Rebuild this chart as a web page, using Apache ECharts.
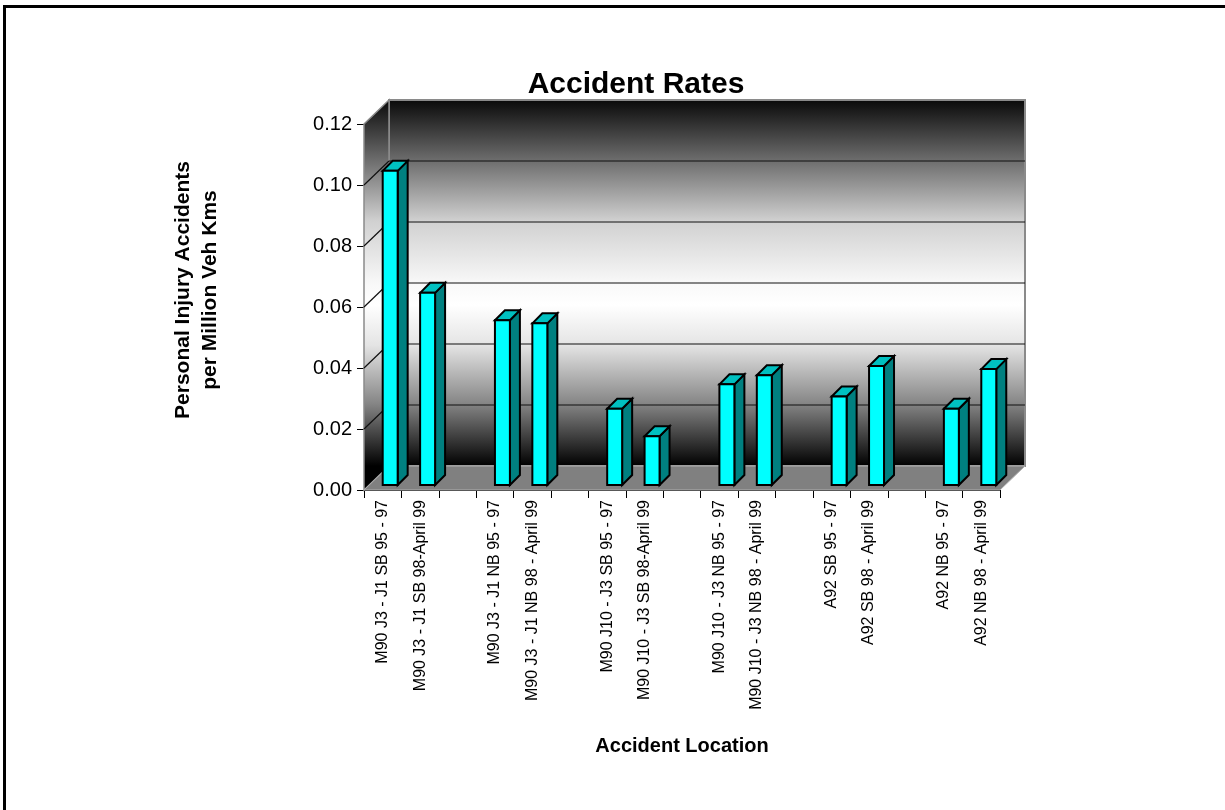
<!DOCTYPE html>
<html>
<head>
<meta charset="utf-8">
<script src="https://cdn.jsdelivr.net/npm/echarts@6/dist/echarts.min.js"></script>
<style>
  html, body { margin: 0; padding: 0; background: #fff; }
  #chart { width: 1225px; height: 810px; }
</style>
</head>
<body>
<div id="chart"></div>
<script>
// 사고율 3D 막대 차트 — 벽/바닥/막대를 custom series 로 그린다.

const categories = [
  "M90 J3 - J1 SB 95 - 97", "M90 J3 - J1 SB 98-April 99", "",
  "M90 J3 - J1 NB 95 - 97", "M90 J3 - J1 NB 98 - April 99", "",
  "M90 J10 - J3 SB 95 - 97", "M90 J10 - J3 SB 98-April 99", "",
  "M90 J10 - J3 NB 95 - 97", "M90 J10 - J3 NB 98 - April 99", "",
  "A92 SB 95 - 97", "A92 SB 98 - April 99", "",
  "A92 NB 95 - 97", "A92 NB 98 - April 99",
];
const rates = [
  0.103, 0.063, null,
  0.054, 0.053, null,
  0.025, 0.016, null,
  0.033, 0.036, null,
  0.029, 0.039, null,
  0.025, 0.038,
];
const yTicks = [0, 0.02, 0.04, 0.06, 0.08, 0.1, 0.12];

const FONT = '"Liberation Sans", Arial, sans-serif';
const DX = 25, DY = -24;          // 벽 깊이
const BD = 10;                     // 막대 깊이
const BAR_OFF = 5;                 // 막대 앞면의 깊이 위치

const wallGrad = (y0, y1) => new echarts.graphic.LinearGradient(0, y0, 0, y1, [
  { offset: 0, color: "#0a0a0a" },
  { offset: 0.16, color: "#6a6a6a" },
  { offset: 0.33, color: "#d0d0d0" },
  { offset: 0.5, color: "#f8f8f8" },
  { offset: 0.56, color: "#ffffff" },
  { offset: 0.67, color: "#e4e4e4" },
  { offset: 0.83, color: "#858585" },
  { offset: 1, color: "#000000" },
], true);

function renderWalls(params, api) {
  const cs = params.coordSys;
  const x0 = cs.x, x1 = cs.x + cs.width;
  const yTop = cs.y, yBot = cs.y + cs.height;
  const g = wallGrad(yTop + DY, yBot + DY);
  const children = [
    { type: "rect", shape: { x: x0 + DX, y: yTop + DY, width: cs.width, height: cs.height },
      style: { fill: g, stroke: "#8a8a8a", lineWidth: 2 } },
    { type: "polygon", shape: { points: [[x0, yBot], [x0, yTop], [x0 + DX, yTop + DY], [x0 + DX, yBot + DY]] },
      style: { fill: g, stroke: "#8a8a8a", lineWidth: 1.5 } },
    { type: "polygon", shape: { points: [[x0, yBot], [x1, yBot], [x1 + DX, yBot + DY], [x0 + DX, yBot + DY]] },
      style: { fill: "#808080", stroke: "#b0b0b0", lineWidth: 1 } },
  ];
  yTicks.forEach((v) => {
    if (v === 0 || v === yTicks[yTicks.length - 1]) return;
    const y = api.coord([0, v])[1];
    children.push({ type: "line", shape: { x1: x0 + DX, y1: y + DY, x2: x1 + DX, y2: y + DY },
      style: { stroke: "#111", lineWidth: 1.2 } });
    children.push({ type: "line", shape: { x1: x0, y1: y, x2: x0 + DX, y2: y + DY },
      style: { stroke: "#111", lineWidth: 1.2 } });
  });
  return { type: "group", children };
}

function renderBar(params, api) {
  const i = api.value(0), v = api.value(1);
  const top = api.coord([i, v]);
  const base = api.coord([i, 0]);
  const w = api.size([1, 0])[0] * 0.4;
  const x = top[0];
  const yt = top[1] - BAR_OFF, yb = base[1] - BAR_OFF;
  const st = { stroke: "#000", lineWidth: 2, lineJoin: "miter" };
  return {
    type: "group",
    children: [
      { type: "polygon", shape: { points: [[x + w, yt], [x + w + BD, yt - BD], [x + w + BD, yb - BD], [x + w, yb]] },
        style: { fill: "#008080", ...st } },
      { type: "polygon", shape: { points: [[x, yt], [x + BD, yt - BD], [x + w + BD, yt - BD], [x + w, yt]] },
        style: { fill: "#00c0c0", ...st } },
      { type: "rect", shape: { x, y: yt, width: w, height: yb - yt },
        style: { fill: "#00ffff", ...st } },
    ],
  };
}

const chart = echarts.init(document.getElementById("chart"), null, { renderer: "canvas" });
chart.setOption({
  animation: false,
  textStyle: { fontFamily: FONT, color: "#000" },
  grid: { left: 364, top: 124, width: 636, height: 366 },
  xAxis: {
    type: "category",
    data: categories,
    boundaryGap: true,
    name: "Accident Location",
    nameLocation: "middle",
    nameGap: 246,
    nameTextStyle: { fontFamily: FONT, fontWeight: "bold", fontSize: 20, color: "#000" },
    axisLine: { lineStyle: { color: "#000", width: 1 } },
    axisTick: { show: true, interval: 0, length: 8, lineStyle: { color: "#000" } },
    axisLabel: { interval: 0, rotate: 90, fontSize: 16, margin: 10, color: "#000", fontFamily: FONT },
    splitLine: { show: false },
  },
  yAxis: {
    type: "value",
    min: 0, max: 0.12, interval: 0.02,
    axisLine: { show: true, lineStyle: { color: "#000", width: 1 } },
    axisTick: { show: true, length: 7, lineStyle: { color: "#000" } },
    axisLabel: { fontSize: 20, margin: 12, color: "#000", fontFamily: FONT,
      formatter: (v) => v.toFixed(2) },
    splitLine: { show: false },
  },
  series: [
    { type: "custom", renderItem: renderWalls, data: [[0, 0]], z: 1, silent: true },
    { type: "custom", renderItem: renderBar, z: 2,
      data: rates.map((v, i) => [i, v]).filter((d) => d[1] != null) },
  ],
  graphic: [
    { type: "rect", shape: { x: 3, y: 5, width: 1222, height: 3 }, style: { fill: "#000" } },
    { type: "rect", shape: { x: 3, y: 5, width: 3, height: 805 }, style: { fill: "#000" } },
    { type: "text", x: 636, y: 85, style: { text: "Accident Rates", fill: "#000",
      font: 'bold 30px "Liberation Sans", Arial, sans-serif', align: "center", verticalAlign: "middle" } },
    { type: "text", x: 197, y: 290, rotation: Math.PI / 2,
      style: { text: "Personal Injury Accidents\nper Million Veh Kms", fill: "#000", lineHeight: 27,
        font: 'bold 21px "Liberation Sans", Arial, sans-serif', align: "center", verticalAlign: "middle" } },
  ],
});
</script>
</body>
</html>
